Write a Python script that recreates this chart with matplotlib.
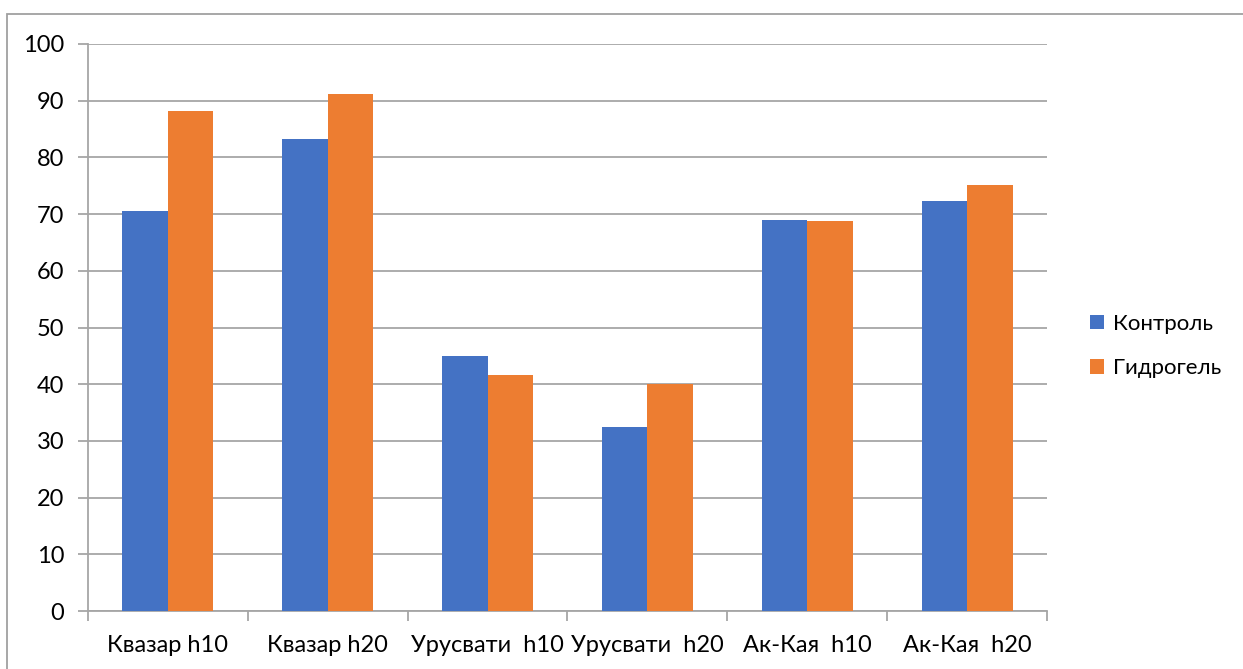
import numpy as np
import matplotlib
matplotlib.use('Agg')
import matplotlib.pyplot as plt
from matplotlib.patches import Rectangle

categories = ["Квазар h10", "Квазар h20", "Урусвати  h10", "Урусвати  h20",
              "Ак-Кая  h10", "Ак-Кая  h20"]
control = [70.5, 83.2, 45.0, 32.4, 69.0, 72.3]
hydrogel = [88.2, 91.2, 41.7, 40.1, 68.8, 75.1]
series_names = ["Контроль", "Гидрогель"]

plt.rcParams['font.family'] = ['Lato', 'DejaVu Sans']

W, H = 1243, 669
fig = plt.figure(figsize=(W / 100, H / 100), dpi=100)
ax = fig.add_axes([88 / W, 1 - 611 / H, (1047 - 88) / W, (611 - 44) / H])

x = np.arange(len(categories))
bw = 0.285
b1 = ax.bar(x - bw / 2, control, bw, color='#4472C4', label=series_names[0], zorder=3)
b2 = ax.bar(x + bw / 2, hydrogel, bw, color='#ED7D31', label=series_names[1], zorder=3)

ax.set_xlim(-0.5, len(categories) - 0.5)
ax.set_ylim(0, 100)
ax.set_yticks(range(0, 101, 10))
ax.yaxis.grid(True, color='#a6a6a6', linewidth=1.3, zorder=0)

ax.set_xticks(x)
ax.set_xticklabels(categories)
ax.set_xticks(np.arange(len(categories) + 1) - 0.5, minor=True)
ax.tick_params(axis='x', which='major', length=0, pad=17, labelsize=17)
ax.tick_params(axis='x', which='minor', length=7, width=1.3, color='#a6a6a6')
ax.tick_params(axis='y', length=7, width=1.3, color='#a6a6a6', pad=10, labelsize=17)

for s in ['top', 'right']:
    ax.spines[s].set_visible(False)
for s in ['left', 'bottom']:
    ax.spines[s].set_color('#a6a6a6')
    ax.spines[s].set_linewidth(1.3)

fig.legend(handles=[b1, b2], loc='center left', bbox_to_anchor=(1070 / W, 1 - 346 / H),
           frameon=False, fontsize=16, handlelength=0.65, handleheight=0.65,
           handletextpad=0.4, labelspacing=1.1)

fig.patches.append(Rectangle((7 / W, -0.5), 2, 0.5 + (1 - 14 / H), transform=fig.transFigure,
                             fill=False, edgecolor='#a0a0a0', linewidth=1.3))

fig.savefig('out.png', dpi=100)
